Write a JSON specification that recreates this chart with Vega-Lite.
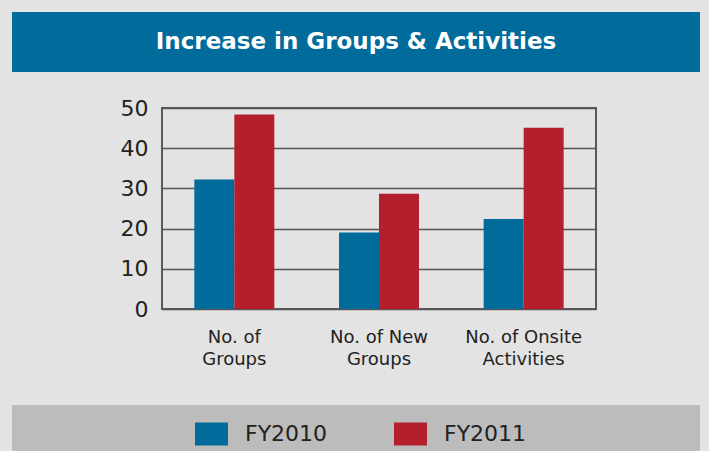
{
  "$schema": "https://vega.github.io/schema/vega-lite/v6.json",
  "background": "#e3e3e3",
  "padding": {"left": 12, "top": 12, "right": 9, "bottom": 0},
  "spacing": 24,
  "vconcat": [
    {
      "width": 688,
      "height": 60,
      "view": {"fill": "#016b9b", "stroke": null},
      "data": {"values": [{"t": "Increase in Groups & Activities"}]},
      "mark": {"type": "text", "color": "white", "font": "DejaVu Sans", "fontWeight": "bold", "fontSize": 23, "baseline": "middle", "align": "center"},
      "encoding": {"text": {"field": "t", "type": "nominal"}}
    },
    {
      "spacing": 36,
      "vconcat": [
        {
          "spacing": 0,
          "hconcat": [
            {
              "width": 107,
              "height": 1,
              "view": {"fill": null, "stroke": null},
              "data": {"values": []},
              "mark": {"type": "rect"},
              "encoding": {}
            },
            {
              "width": 434,
              "height": 201,
              "view": {"fill": "#e3e3e3", "stroke": "#5a5a5a", "strokeWidth": 2},
              "data": {
                "values": [
                  {"category": "No. of Groups", "year": "FY2010", "value": 32.2},
                  {"category": "No. of Groups", "year": "FY2011", "value": 48.4},
                  {"category": "No. of New Groups", "year": "FY2010", "value": 19.0},
                  {"category": "No. of New Groups", "year": "FY2011", "value": 28.7},
                  {"category": "No. of Onsite Activities", "year": "FY2010", "value": 22.4},
                  {"category": "No. of Onsite Activities", "year": "FY2011", "value": 45.1}
                ]
              },
              "mark": {"type": "bar"},
              "encoding": {
                "x": {
                  "field": "category", "type": "nominal", "sort": null,
                  "scale": {"paddingInner": 0.447, "paddingOuter": 0.2235},
                  "axis": {
                    "title": null, "labelAngle": 0, "ticks": false, "domain": false,
                    "labelPadding": 19, "labelFontSize": 18, "labelLineHeight": 22,
                    "labelFont": "DejaVu Sans", "labelColor": "#222", "labelBaseline": "top",
                    "labelExpr": "datum.value == 'No. of Groups' ? ['No. of', 'Groups'] : datum.value == 'No. of New Groups' ? ['No. of New', 'Groups'] : ['No. of Onsite', 'Activities']"
                  }
                },
                "xOffset": {"field": "year", "type": "nominal", "scale": {"paddingInner": 0, "paddingOuter": 0}},
                "y": {
                  "field": "value", "type": "quantitative",
                  "scale": {"domain": [0, 50], "nice": false},
                  "axis": {
                    "title": null, "values": [0, 10, 20, 30, 40, 50], "ticks": false, "domain": false,
                    "grid": true, "gridColor": "#555", "gridWidth": 1.5, "gridOpacity": 1,
                    "labelPadding": 14, "labelFontSize": 22, "labelFont": "DejaVu Sans", "labelColor": "#222"
                  }
                },
                "color": {
                  "field": "year", "type": "nominal",
                  "scale": {"range": ["#016b9b", "#b51f2d"]},
                  "legend": {
                    "title": null, "orient": "none", "legendX": 183, "legendY": 405,
                    "direction": "horizontal",
                    "symbolType": "M-1,-0.7L1,-0.7L1,0.7L-1,0.7Z", "symbolSize": 1089,
                    "symbolStrokeWidth": 0, "symbolOpacity": 1,
                    "labelFontSize": 22, "labelFont": "DejaVu Sans", "labelColor": "#222",
                    "labelOffset": 17, "columnPadding": 66
                  }
                }
              }
            }
          ]
        },
        {
          "width": 688,
          "height": 46,
          "view": {"fill": "#bbbcbb", "stroke": null},
          "data": {"values": []},
          "mark": {"type": "rect"},
          "encoding": {}
        }
      ]
    }
  ]
}
